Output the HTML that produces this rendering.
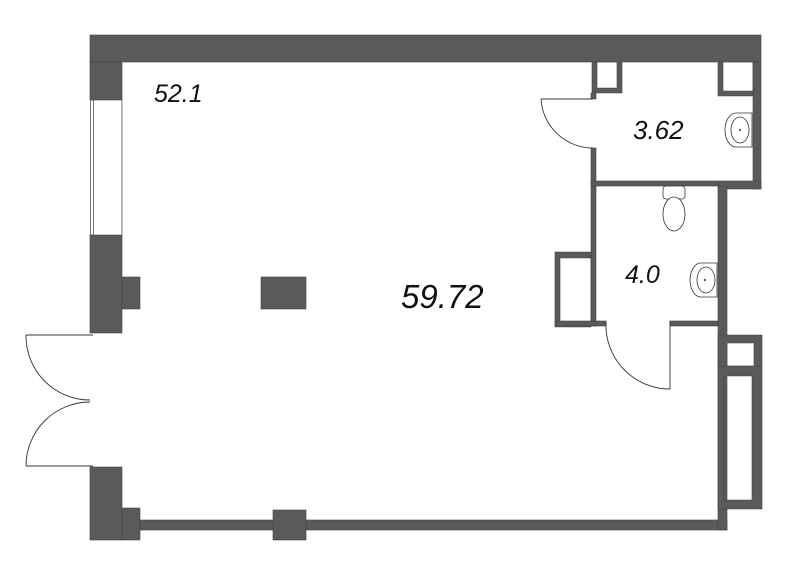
<!DOCTYPE html>
<html><head><meta charset="utf-8"><style>
html,body{margin:0;padding:0;background:#fff;}
svg{display:block;}
text{font-family:"Liberation Sans",sans-serif;font-style:italic;fill:#111;}
</style></head><body>
<svg width="800" height="575" viewBox="0 0 800 575" xmlns="http://www.w3.org/2000/svg">
<g fill="#5a5a5a" stroke="#444" stroke-width="0.6">
<rect x="90" y="35" width="671" height="27"/>
<rect x="90" y="62" width="32" height="38"/>
<rect x="90" y="235" width="32" height="98"/>
<rect x="122" y="277" width="18" height="32"/>
<rect x="90" y="467" width="32" height="73"/>
<rect x="122" y="508" width="18" height="32"/>
<rect x="140" y="520" width="587" height="10"/>
<rect x="273" y="510" width="33" height="30"/>
<rect x="261" y="277" width="45" height="32"/>
<rect x="753" y="62" width="8" height="127"/>
<rect x="718" y="181" width="43" height="8"/>
<path d="M592 62h30v31h-30z M597 62v26h20v-26z" fill-rule="evenodd"/>
<path d="M718 62h35v34h-35z M723 62v29h30v-29z" fill-rule="evenodd"/>
<rect x="591" y="148" width="5" height="37"/>
<rect x="591" y="93" width="5" height="6"/>
<rect x="591" y="181" width="127" height="5"/>
<rect x="591" y="186" width="5" height="140"/>
<path d="M555 252h36v75h-36z M560 258v64h31v-64z" fill-rule="evenodd"/>
<rect x="555" y="321" width="51" height="5"/>
<rect x="670" y="321" width="48" height="5"/>
<rect x="718" y="186" width="9" height="344"/>
<path d="M718 335h44v32h-44z M727 343v23h27v-23z" fill-rule="evenodd"/>
<path d="M718 366h44v143h-44z M724 376v124h28v-124z" fill-rule="evenodd"/>
</g>
<g fill="none" stroke="#555" stroke-width="0.8">
<rect x="90.5" y="100" width="3" height="135"/>
<line x1="122" y1="100" x2="122" y2="235"/>
</g>
<g fill="none" stroke="#333" stroke-width="0.9">
<line x1="26" y1="335" x2="93" y2="335"/>
<path d="M26 335 A64 64 0 0 0 90 400"/>
<line x1="26" y1="466" x2="93" y2="466"/>
<path d="M26 466 A64 64 0 0 1 90 402"/>
<line x1="541" y1="99" x2="593" y2="99"/>
<path d="M541 99 A52 52 0 0 0 593 148"/>
<line x1="670" y1="322" x2="670" y2="389"/>
<path d="M606 322 A64 64 0 0 0 670 389"/>
</g>
<g fill="#fff" stroke="#333" stroke-width="0.8">
<path d="M752 113 h-16 a11 17 0 0 0 0 34 h16 z"/>
<ellipse cx="740" cy="130" rx="9" ry="13"/>
<path d="M717 263 h-16 a11 17 0 0 0 0 34 h16 z"/>
<ellipse cx="706" cy="280" rx="9" ry="13"/>
<rect x="663" y="186" width="22" height="13" rx="3"/>
<ellipse cx="674" cy="214" rx="11" ry="17"/>
</g>
<circle cx="740" cy="130" r="1" fill="#333"/>
<circle cx="705" cy="280" r="1" fill="#333"/>
<text x="154" y="102" font-size="25">52.1</text>
<text x="401" y="308" font-size="33">59.72</text>
<text x="633" y="139" font-size="26">3.62</text>
<text x="625" y="283" font-size="25">4.0</text>
</svg>
</body></html>
